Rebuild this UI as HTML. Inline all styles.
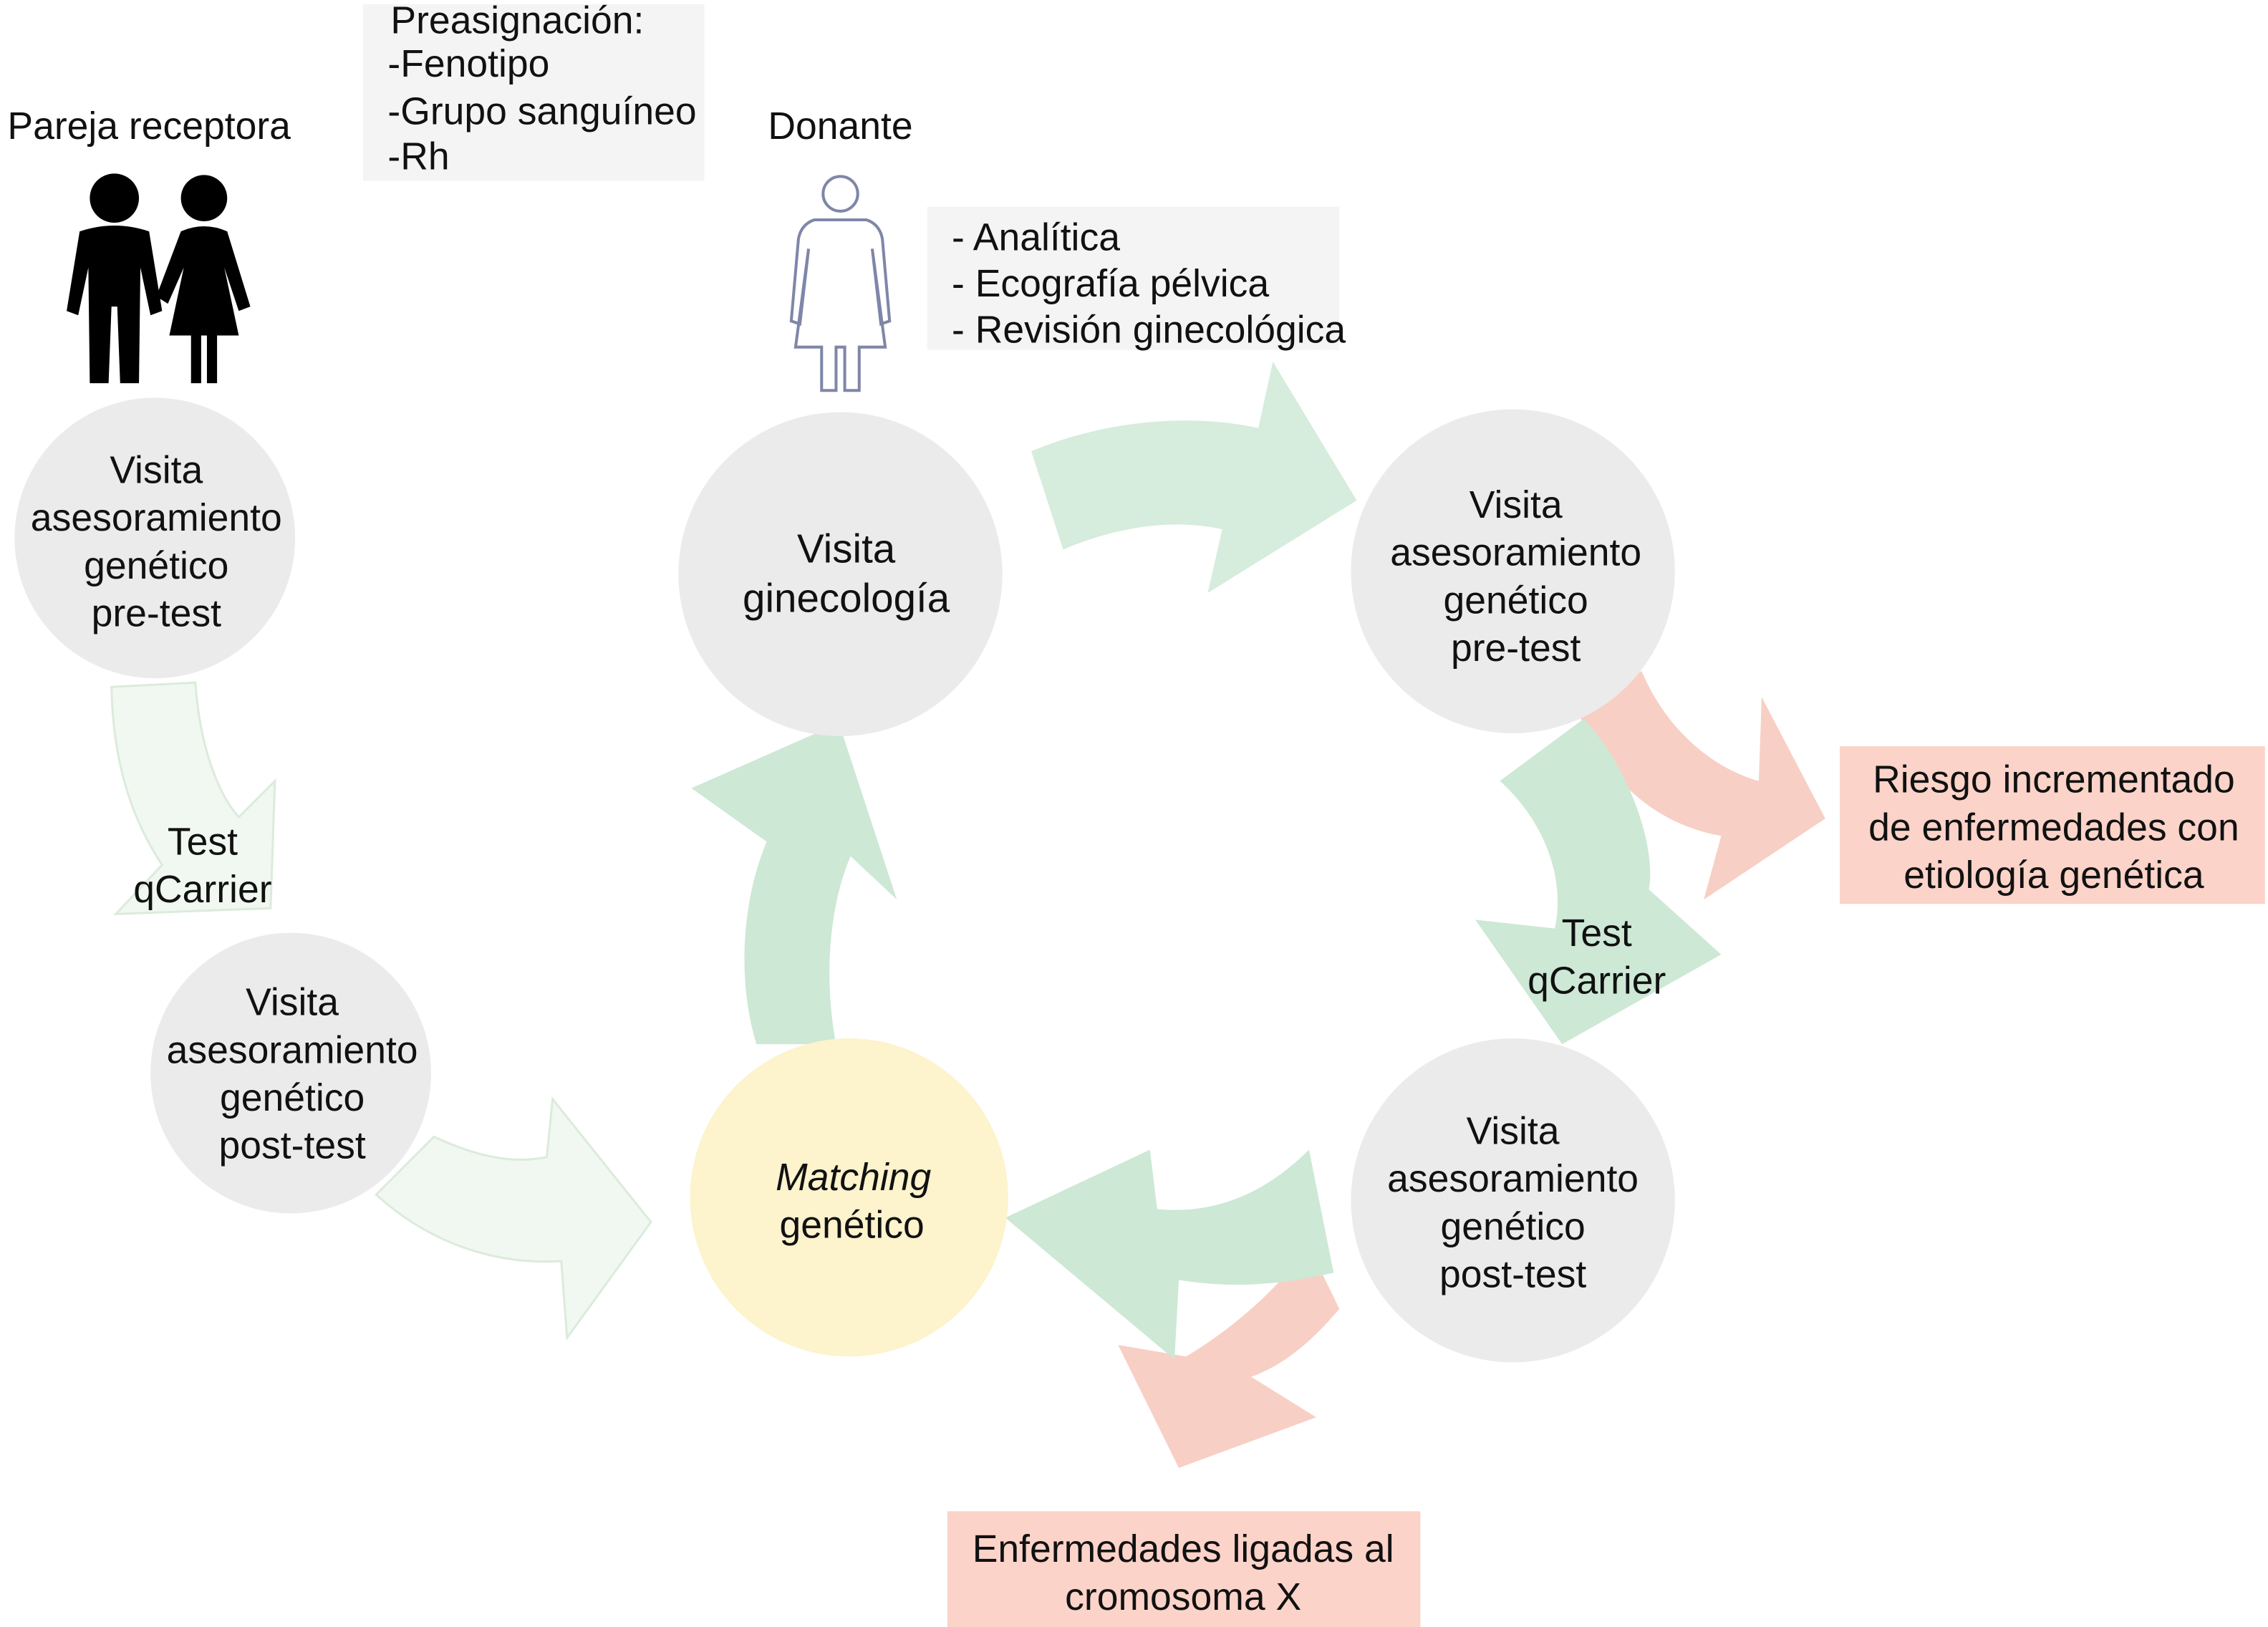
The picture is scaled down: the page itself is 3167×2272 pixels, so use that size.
<!DOCTYPE html>
<html><head><meta charset="utf-8">
<style>
html,body{margin:0;padding:0;background:#fff;}
svg{display:block;}
text{font-family:"Liberation Sans",Arial,sans-serif;fill:#111;}
</style></head>
<body>
<svg width="3167" height="2272" viewBox="0 0 1568 1125" xmlns="http://www.w3.org/2000/svg">
<rect width="1568" height="1125" fill="#fff"/>

<rect x="251" y="3" width="236" height="122" fill="#f4f4f4"/>
<rect x="641" y="143" width="285" height="99" fill="#f4f4f4"/>
<rect x="1272" y="516" width="294" height="109" fill="#fbd3c9"/>
<rect x="655" y="1045" width="327" height="80" fill="#fbd3c9"/>

<path d="M77,475 L135,472 C138,515 150,548 165,565 L190,540 L187,628 L80,632 L112,598 C90,565 78,525 77,475 Z" fill="#f1f8f1" stroke="#dcebdc" stroke-width="1.5"/>
<path d="M260,826 L300,786 C330,800 355,805 378,800 L382,760 L450,845 L392,925 L388,872 C340,875 295,858 260,826 Z" fill="#f1f8f1" stroke="#dcebdc" stroke-width="1.5"/>

<path d="M1090,490 L1135,464 C1150,500 1180,530 1216,540 L1218,482 L1262,566 L1178,622 L1190,578 C1145,570 1110,540 1090,490 Z" fill="#f8cfc4"/>
<path d="M905,862 L926,905 C905,930 885,945 865,952 L910,980 L815,1015 L773,930 L820,938 C850,920 880,895 905,862 Z" fill="#f8cfc4"/>

<path d="M713,312 C760,292 820,285 870,296 L880,250 L938,346 L835,410 L845,366 C810,358 770,365 735,380 Z" fill="#d6ecdc"/>
<path d="M1095,497 C1130,535 1145,590 1140,615 L1190,660 L1080,722 L1020,636 L1075,642 C1082,610 1070,570 1037,540 Z" fill="#cde8d5"/>
<path d="M905,795 L922,880 C880,890 845,890 815,885 L812,940 L695,842 L795,795 L800,836 C840,840 875,825 905,795 Z" fill="#cde8d5"/>
<path d="M523,722 C510,680 512,625 530,582 L478,545 L580,500 L620,622 L588,592 C572,630 570,680 578,722 Z" fill="#cde8d5"/>

<circle cx="107" cy="372" r="97" fill="#ebebeb"/>
<circle cx="201" cy="742" r="97" fill="#ebebeb"/>
<circle cx="581" cy="397" r="112" fill="#ebebeb"/>
<circle cx="1046" cy="395" r="112" fill="#ebebeb"/>
<circle cx="1046" cy="830" r="112" fill="#ebebeb"/>
<circle cx="587" cy="828" r="110" fill="#fdf3cc"/>

<g fill="#000">
<circle cx="79" cy="137" r="17"/>
<path d="M55,160 Q79,152 103,160 L112,215 L104,218 L97,185 L96,265 L83,265 L81,212 L77,212 L75,265 L62,265 L61,185 L54,218 L46,215 Z"/>
<circle cx="141" cy="137" r="16"/>
<path d="M125,160 Q141,153 157,160 L173,212 L165,215 L155,185 L165,232 L150,232 L150,265 L143,265 L143,232 L139,232 L139,265 L132,265 L132,232 L117,232 L127,185 L116,210 L108,205 Z"/>
</g>

<g fill="none" stroke="#7f86a8" stroke-width="2">
<circle cx="581" cy="134" r="12"/>
<path d="M563,152 L599,152 Q608,155 610,165 L615,222 L609,224 L603,172 L612,240 L594,240 L594,270 L584,270 L584,240 L578,240 L578,270 L568,270 L568,240 L550,240 L559,172 L553,224 L547,222 L552,165 Q554,155 563,152 Z"/>
</g>

<g font-size="26.5">
<text x="103" y="96" text-anchor="middle">Pareja receptora</text>
<text x="581" y="96" text-anchor="middle">Donante</text>
<text x="270" y="23">Preasignación:</text>
<text x="268" y="53">-Fenotipo</text>
<text x="268" y="86">-Grupo sanguíneo</text>
<text x="268" y="117">-Rh</text>
<text x="658" y="173">- Analítica</text>
<text x="658" y="205">- Ecografía pélvica</text>
<text x="658" y="237">- Revisión ginecológica</text>
</g>
<g font-size="26.5" text-anchor="middle">
<text x="108" y="334">Visita</text><text x="108" y="367">asesoramiento</text><text x="108" y="400">genético</text><text x="108" y="433">pre-test</text>
<text x="140" y="591">Test</text><text x="140" y="624">qCarrier</text>
<text x="202" y="702">Visita</text><text x="202" y="735">asesoramiento</text><text x="202" y="768">genético</text><text x="202" y="801">post-test</text>
<text x="585" y="389" font-size="28">Visita</text><text x="585" y="423" font-size="28">ginecología</text>
<text x="1048" y="358">Visita</text><text x="1048" y="391">asesoramiento</text><text x="1048" y="424">genético</text><text x="1048" y="457">pre-test</text>
<text x="1104" y="654">Test</text><text x="1104" y="687">qCarrier</text>
<text x="1046" y="791">Visita</text><text x="1046" y="824">asesoramiento</text><text x="1046" y="857">genético</text><text x="1046" y="890">post-test</text>
<text x="590" y="823" font-style="italic">Matching</text><text x="589" y="856">genético</text>
<text x="1420" y="548">Riesgo incrementado</text><text x="1420" y="581">de enfermedades con</text><text x="1420" y="614">etiología genética</text>
<text x="818" y="1080">Enfermedades ligadas al</text><text x="818" y="1113">cromosoma X</text>
</g>
</svg>
</body></html>
